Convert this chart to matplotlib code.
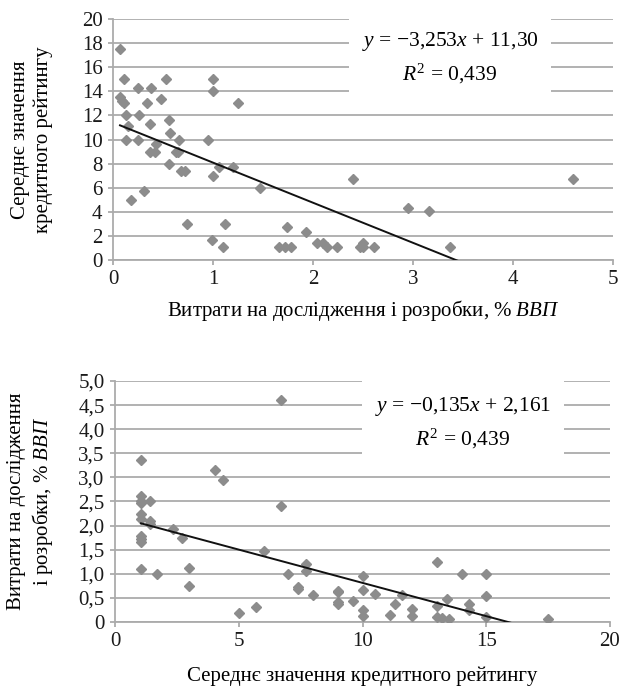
#scatter plots - credit rating vs R&D spending, with linear trend lines
import numpy as np
import matplotlib
matplotlib.use('Agg')
from matplotlib import pyplot as plt

plt.rcParams['font.family'] = ['Liberation Serif', 'DejaVu Serif']
plt.rcParams['mathtext.fontset'] = 'custom'
plt.rcParams['mathtext.rm'] = 'Liberation Serif'
plt.rcParams['mathtext.it'] = 'Liberation Serif:italic'

# R&D spending, % of GDP
rd = [0.07, 0.11, 0.25, 0.38, 0.53, 0.07, 0.09, 0.11, 0.34, 0.48,
      1.00, 1.00, 1.25, 0.13, 0.26, 0.37, 0.56, 0.15, 0.57, 0.66,
      0.13, 0.25, 0.95, 0.43, 0.37, 0.42, 0.63, 0.65, 0.56, 1.06,
      1.20, 0.68, 0.72, 1.00, 1.47, 0.31, 0.18, 0.74, 1.12, 1.74,
      1.93, 0.99, 1.10, 1.66, 1.72, 1.78, 2.04, 2.10, 2.14, 2.24,
      2.47, 2.40, 2.50, 2.50, 2.61, 2.95, 3.16, 3.37, 4.60]
# mean credit rating
rating = [17.5, 15.0, 14.3, 14.3, 15.0, 13.5, 13.2, 13.0, 13.0, 13.4,
          15.0, 14.0, 13.0, 12.0, 12.0, 11.3, 11.6, 11.1, 10.5, 10.0,
          10.0, 10.0, 10.0, 9.6, 9.0, 9.0, 9.0, 9.0, 8.0, 7.7,
          7.7, 7.4, 7.4, 7.0, 6.0, 5.7, 5.0, 3.0, 3.0, 2.7,
          2.35, 1.7, 1.05, 1.05, 1.05, 1.05, 1.4, 1.4, 1.05, 1.05,
          1.05, 6.7, 1.4, 1.05, 1.05, 4.35, 4.05, 1.05, 6.7]

grey = '#8c8c8c'
gridc = '#ababab'
fs_tick = 15
fs_lab = 15

fig = plt.figure(figsize=(6.25, 6.91), dpi=100)
ax1 = fig.add_axes([0.1808, 0.6237, 0.800, 0.3488])
ax2 = fig.add_axes([0.1840, 0.0999, 0.792, 0.3488])


def style(ax, xt, yt, ylabels):
    ax.set_xticks(xt)
    ax.set_yticks(yt)
    ax.set_yticklabels(ylabels)
    ax.set_xlim(xt[0], xt[-1])
    ax.set_ylim(yt[0], yt[-1])
    for s in ['top', 'right']:
        ax.spines[s].set_visible(False)
    for s in ['left', 'bottom']:
        ax.spines[s].set_color(gridc)
        ax.spines[s].set_linewidth(1.3)
    ax.yaxis.grid(True, color=gridc, linewidth=1.3)
    ax.set_axisbelow(True)
    ax.tick_params(axis='both', colors=gridc, labelcolor='#1a1a1a',
                   labelsize=fs_tick, length=3.5, width=1.3)
    ax.tick_params(axis='y', pad=4)
    ax.tick_params(axis='x', pad=4)


def trend(ax, x, y, txt, tx, ty):
    x = np.array(x)
    y = np.array(y)
    k, b = np.polyfit(x, y, 1)
    xs = np.array([x.min(), x.max()])
    ax.plot(x, y, 'D', color=grey, ms=5.4, mec=grey, zorder=3)
    ax.plot(xs, k * xs + b, color='#111111', lw=1.4, zorder=4)
    ax.text(tx, ty, txt, transform=ax.transAxes, ha='center', va='center',
            fontsize=15.5, linespacing=1.45, zorder=5,
            bbox=dict(facecolor='white', edgecolor='none', pad=9))


# top: rating vs R&D
style(ax1, [0, 1, 2, 3, 4, 5], list(range(0, 21, 2)),
      [str(v) for v in range(0, 21, 2)])
trend(ax1, rd, rating,
      "$y$ = \u22123,253$x$ + 11,30\n$R^{\\mathrm{2}}$ = 0,439", 0.674, 0.838)
ax1.set_xlabel("Витрати на дослідження і розробки, $\\mathit{\\%\\ ВВП}$",
               fontsize=fs_lab, labelpad=6)
ax1.set_ylabel("Середнє значення\nкредитного рейтингу", fontsize=fs_lab,
               linespacing=1.2, va='center', ha='center')
ax1.yaxis.set_label_coords(-0.162, 0.5)

# bottom: R&D vs rating
yt2 = [0, 0.5, 1.0, 1.5, 2.0, 2.5, 3.0, 3.5, 4.0, 4.5, 5.0]
style(ax2, [0, 5, 10, 15, 20], yt2,
      ['0'] + [('%.1f' % v).replace('.', ',') for v in yt2[1:]])
trend(ax2, rating, rd,
      "$y$ = \u22120,135$x$ + 2,161\n$R^{\\mathrm{2}}$ = 0,439", 0.703, 0.826)
ax2.set_xlabel("Середнє значення кредитного рейтингу", fontsize=fs_lab,
               labelpad=11)
ax2.set_ylabel("Витрати на дослідження\nі розробки, $\\mathit{\\%\\ ВВП}$",
               fontsize=fs_lab, linespacing=1.2, va='center', ha='center')
ax2.yaxis.set_label_coords(-0.170, 0.5)

plt.savefig('out.png', dpi=100)
